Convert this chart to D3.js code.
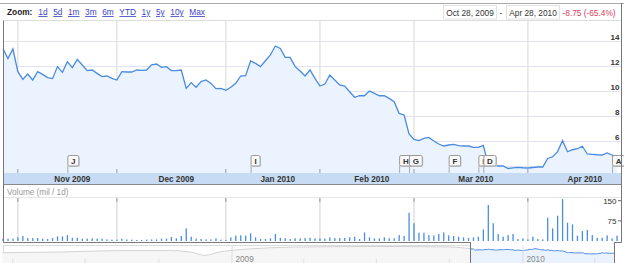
<!DOCTYPE html>
<html>
<head>
<meta charset="utf-8">
<script src="https://cdn.jsdelivr.net/npm/d3@7"></script>
<style>
  body { margin: 0; background: #fff; }
  svg { display: block; font-family: "Liberation Sans", Arial, sans-serif; }
</style>
</head>
<body>
<svg id="chart" width="624" height="263"></svg>
<script>
// daily closes, Oct 28 2009 - Apr 28 2010 (one per trading day)
var closes = [
  13.38,12.6,13.36,11.55,10.93,11.36,10.88,11.55,11.33,11.07,
  10.99,11.95,11.49,12.35,11.87,12.53,12.08,11.63,11.68,11.41,
  11.15,11.2,11.01,10.88,11.55,11.52,11.52,11.68,11.65,11.68,
  12.1,12.16,11.89,11.95,11.63,11.63,11.68,10.21,10.67,10.3,
  10.75,10.88,10.61,10.19,10.21,10.05,10.3,10.61,11.2,11.23,
  12.4,12.21,11.95,12.42,12.88,13.6,13.41,12.69,12.69,11.95,
  11.6,11.2,11.68,11.01,10.4,10.56,11.28,10.88,10.48,10.4,
  9.94,9.5,9.62,9.62,10.0,9.81,9.62,9.62,9.41,9.14,
  8.21,8.08,6.56,6.13,6.03,6.21,6.29,6.0,5.76,5.6,
  5.68,5.73,5.63,5.6,5.6,5.49,5.49,5.65,4.1,4.05,
  4.0,4.0,3.8,3.85,3.89,3.86,3.84,3.88,3.92,3.92,
  4.6,4.74,5.15,6.03,5.14,5.3,5.38,5.58,4.96,4.93,
  4.9,4.88,5.04,4.88,4.63
];

// volume in millions
var volumes = [
  8.7,8.7,8.7,13.6,18.6,11,11,11,8.7,7.4,
  11,17.4,17,22,12,12,8.7,8.7,10,8.7,
  8.7,6,5,5,8.7,6,5,4,4,5,
  6,6,8.7,8.7,15,10,18.6,47,16,8.7,
  7.4,6,6,10,5,4,13.6,20,21,20,
  28.5,13.6,7.4,7.4,10,26,12,10,7.4,10,
  10,11,12,10,10,8.7,13.6,11,11,11,
  13.6,16,7.4,32,13.6,10,10,13.6,10,10,
  22,18.6,105,66,31,31,22,21,26,32,
  21,18.6,16,13.6,11,13.6,16,43,134,66,
  26,16,22,26,7.4,10,6,16,7.4,6,
  87,47,94,156,68,62,20,37,41,22,
  12,12,21,10,20
];

var monthLabels = ["Nov 2009", "Dec 2009", "Jan 2010", "Feb 2010", "Mar 2010", "Apr 2010"];
var monthStart = [3, 23, 45, 64, 83, 106];   // trading-day index of first day
var monthNext = [23, 45, 64, 83, 106, 127];
var priceTicks = [4, 6, 8, 10, 12, 14];
var volTicks = [75, 150];

var flagLetters = ["J", "I", "H", "G", "F", "I", "D", "A"];
var flagIndex = [13, 50, 80, 82, 90, 96, 97, 123];

var zoomLinks = ["1d", "5d", "1m", "3m", "6m", "YTD", "1y", "5y", "10y", "Max"];

// overview strip (longer history)
var navDates = ["2008-03-19", "2008-06-01", "2008-08-15", "2008-10-15", "2008-11-10", "2008-11-28",
                "2008-12-15", "2009-01-05", "2009-04-01", "2009-07-01", "2009-10-01", "2009-10-28"];
var navValues = [6, 7.3, 10, 10, 7.3, 1, 7, 11, 16.7, 17.6, 16.7, 13.4];
var navYears = ["2009", "2010"];

var svg = d3.select("#chart");

var x = d3.scaleLinear().domain([0, closes.length - 1]).range([3, 617]);
var y = d3.scaleLinear().domain([4, 14]).range([166, 41]);
var yv = d3.scaleLinear().domain([0, 150]).range([241, 200.7]);

// frame / toolbar
svg.append("line").attr("x1", 0).attr("x2", 624).attr("y1", 3.5).attr("y2", 3.5).attr("stroke", "#aaa");
svg.append("line").attr("x1", 3).attr("x2", 622).attr("y1", 20.5).attr("y2", 20.5).attr("stroke", "#ddd");

svg.append("text").attr("x", 7).attr("y", 15).attr("font-size", 8.3).attr("font-weight", "bold")
  .attr("fill", "#222").text("Zoom:");
var lx = 38.3;
zoomLinks.forEach(function(l) {
  var t = svg.append("text").attr("x", lx).attr("y", 15).attr("font-size", 8.3)
    .attr("fill", "#3a44c8").attr("text-decoration", "underline").text(l);
  lx += t.node().getComputedTextLength() + 5.6;
});

svg.append("rect").attr("x", 443.5).attr("y", 5.5).attr("width", 53).attr("height", 13.5)
  .attr("fill", "#fff").attr("stroke", "#e2e2e2");
svg.append("text").attr("x", 470).attr("y", 15.5).attr("font-size", 8.3).attr("text-anchor", "middle")
  .attr("fill", "#333").text("Oct 28, 2009");
svg.append("text").attr("x", 501).attr("y", 15.5).attr("font-size", 8.3).attr("text-anchor", "middle")
  .attr("fill", "#333").text("-");
svg.append("rect").attr("x", 506.5).attr("y", 5.5).attr("width", 53).attr("height", 13.5)
  .attr("fill", "#fff").attr("stroke", "#e2e2e2");
svg.append("text").attr("x", 533).attr("y", 15.5).attr("font-size", 8.3).attr("text-anchor", "middle")
  .attr("fill", "#333").text("Apr 28, 2010");
svg.append("text").attr("x", 562.5).attr("y", 15.5).attr("font-size", 8.3)
  .attr("fill", "#d8405e").text("-8.75 (-65.4%)");

// price panel grid
svg.selectAll(".hgrid").data(priceTicks).enter().append("line")
  .attr("x1", 3).attr("x2", 621).attr("y1", d => y(d) + 0.5).attr("y2", d => y(d) + 0.5)
  .attr("stroke", "#e2e2f2");
svg.selectAll(".vgrid").data(monthStart).enter().append("line")
  .attr("x1", d => x(d)).attr("x2", d => x(d)).attr("y1", 21).attr("y2", 173)
  .attr("stroke", "#e4e4e4").attr("stroke-width", 1.5);

// area + line
var area = d3.area().x((d, i) => x(i)).y0(173).y1(d => y(d));
var line = d3.line().x((d, i) => x(i)).y(d => y(d));
svg.append("path").datum(closes).attr("d", area).attr("fill", "#ebf4fe");
svg.append("path").datum(closes).attr("d", line).attr("fill", "none")
  .attr("stroke", "#4a8be0").attr("stroke-width", 1.3);

// price labels
svg.selectAll(".plab").data(priceTicks).enter().append("text")
  .attr("x", 619.5).attr("y", d => y(d) - 1).attr("text-anchor", "end")
  .attr("font-size", 8).attr("font-weight", "bold").attr("fill", "#333").text(d => d);

// month ticks
svg.selectAll(".mtick").data(monthStart).enter().append("line")
  .attr("x1", d => x(d)).attr("x2", d => x(d)).attr("y1", 169).attr("y2", 173)
  .attr("stroke", "#999");

// flags (box width follows the letter)
var flags = svg.selectAll(".flag").data(flagLetters).enter().append("g")
  .attr("transform", (d, i) => "translate(" + x(flagIndex[i]) + ",155.5)");
flags.append("line").attr("x1", 0.5).attr("x2", 0.5).attr("y1", 10).attr("y2", 17.5).attr("stroke", "#aaa");
flags.append("rect").attr("x", 1.5).attr("y", 1).attr("height", 10.5).attr("rx", 1.5)
  .attr("fill", "#d0d0d0");
flags.append("rect").attr("x", 0.5).attr("y", 0).attr("height", 10.5).attr("rx", 1.5)
  .attr("fill", "#fafafa").attr("stroke", "#999");
var ftxt = flags.append("text").attr("y", 8.5).attr("text-anchor", "middle")
  .attr("font-size", 8).attr("font-weight", "bold").attr("fill", "#333").text(d => d);
ftxt.each(function() {
  var w = Math.max(this.getComputedTextLength() + 6.5, 9);
  var g = d3.select(this.parentNode);
  g.selectAll("rect").attr("width", w);
  d3.select(this).attr("x", 0.5 + w / 2);
});

// month band
svg.append("rect").attr("x", 3).attr("y", 173).attr("width", 619).attr("height", 11).attr("fill", "#c7dcf4");
svg.selectAll(".mlab").data(monthLabels).enter().append("text")
  .attr("x", (d, i) => x((monthStart[i] + monthNext[i]) / 2 + 1)).attr("y", 181.8)
  .attr("text-anchor", "middle").attr("font-size", 8.2).attr("font-weight", "bold")
  .attr("fill", "#333").text(d => d);
svg.append("line").attr("x1", 3).attr("x2", 622).attr("y1", 184.5).attr("y2", 184.5).attr("stroke", "#888");

// volume panel
svg.append("text").attr("x", 7).attr("y", 195).attr("font-size", 8.2).attr("fill", "#999")
  .text("Volume (mil / 1d)");
svg.append("line").attr("x1", 3).attr("x2", 621).attr("y1", 197.5).attr("y2", 197.5).attr("stroke", "#e6e6e6");
svg.selectAll(".vvgrid").data(monthStart).enter().append("line")
  .attr("x1", d => x(d)).attr("x2", d => x(d)).attr("y1", 198).attr("y2", 241)
  .attr("stroke", "#e0e0e0").attr("stroke-width", 1.5);
svg.selectAll(".vvtick").data(monthStart).enter().append("line")
  .attr("x1", d => x(d)).attr("x2", d => x(d)).attr("y1", 198).attr("y2", 202)
  .attr("stroke", "#999");
svg.selectAll(".vbar").data(volumes).enter().append("rect")
  .attr("x", (d, i) => x(i) - 0.6).attr("width", 1.3)
  .attr("y", d => yv(d)).attr("height", d => yv(0) - yv(d))
  .attr("fill", "#4a8de6");
svg.selectAll(".vlab").data(volTicks).enter().append("text")
  .attr("x", 616.5).attr("y", d => yv(d) + 3.3).attr("text-anchor", "end")
  .attr("font-size", 8).attr("fill", "#333").text(d => d);
svg.selectAll(".vtick").data(volTicks).enter().append("line")
  .attr("x1", 618).attr("x2", 621).attr("y1", d => yv(d)).attr("y2", d => yv(d))
  .attr("stroke", "#666");

// overview strip
var xNav = d3.scaleTime().domain([new Date(2009, 0, 1), new Date(2010, 0, 1)]).range([232, 523]);
var yNav = d3.scaleLinear().domain([0, 20]).range([255.9, 245.2]);
var navPts = navDates.map((d, i) => [xNav(new Date(d + "T00:00")), navValues[i]]);

svg.append("rect").attr("x", 3.5).attr("y", 245.5).attr("width", 467).attr("height", 20)
  .attr("fill", "#fff").attr("stroke", "#ddd");
svg.append("path").datum(navPts)
  .attr("d", d3.area().curve(d3.curveMonotoneX).x(d => d[0]).y0(263).y1(d => yNav(d[1])))
  .attr("fill", "#f6f6f6");
svg.append("path").datum(navPts)
  .attr("d", d3.line().curve(d3.curveMonotoneX).x(d => d[0]).y(d => yNav(d[1])))
  .attr("fill", "none").attr("stroke", "#d4d4d4");

var xSel = d3.scaleLinear().domain([0, closes.length - 1]).range([471, 615]);
svg.append("path").datum(closes)
  .attr("d", d3.area().x((d, i) => xSel(i)).y0(263).y1(d => yNav(d)))
  .attr("fill", "#e9f2fd");
svg.append("path").datum(closes)
  .attr("d", d3.line().x((d, i) => xSel(i)).y(d => yNav(d)))
  .attr("fill", "none").attr("stroke", "#4a8be0");

var qTicks = d3.timeMonth.every(3).range(new Date(2008, 3, 1), new Date(2010, 4, 2));
svg.selectAll(".qtick").data(qTicks).enter().append("line")
  .attr("x1", d => xNav(d)).attr("x2", d => xNav(d))
  .attr("y1", d => d.getMonth() === 0 ? 246 : 259).attr("y2", 263)
  .attr("stroke", "#dcdcdc");
svg.selectAll(".ylab").data(navYears).enter().append("text")
  .attr("x", d => xNav(new Date(+d, 0, 1)) + 3.5).attr("y", 261.5)
  .attr("font-size", 8.2).attr("fill", "#888").text(d => d);

// outer borders
svg.append("path").attr("d", "M3.5,20.5 V242.5 H470.5 V263").attr("fill", "none").attr("stroke", "#777");
svg.append("path").attr("d", "M614.5,263 V242.5 H621.5 V3").attr("fill", "none").attr("stroke", "#777");
</script>
</body>
</html>
